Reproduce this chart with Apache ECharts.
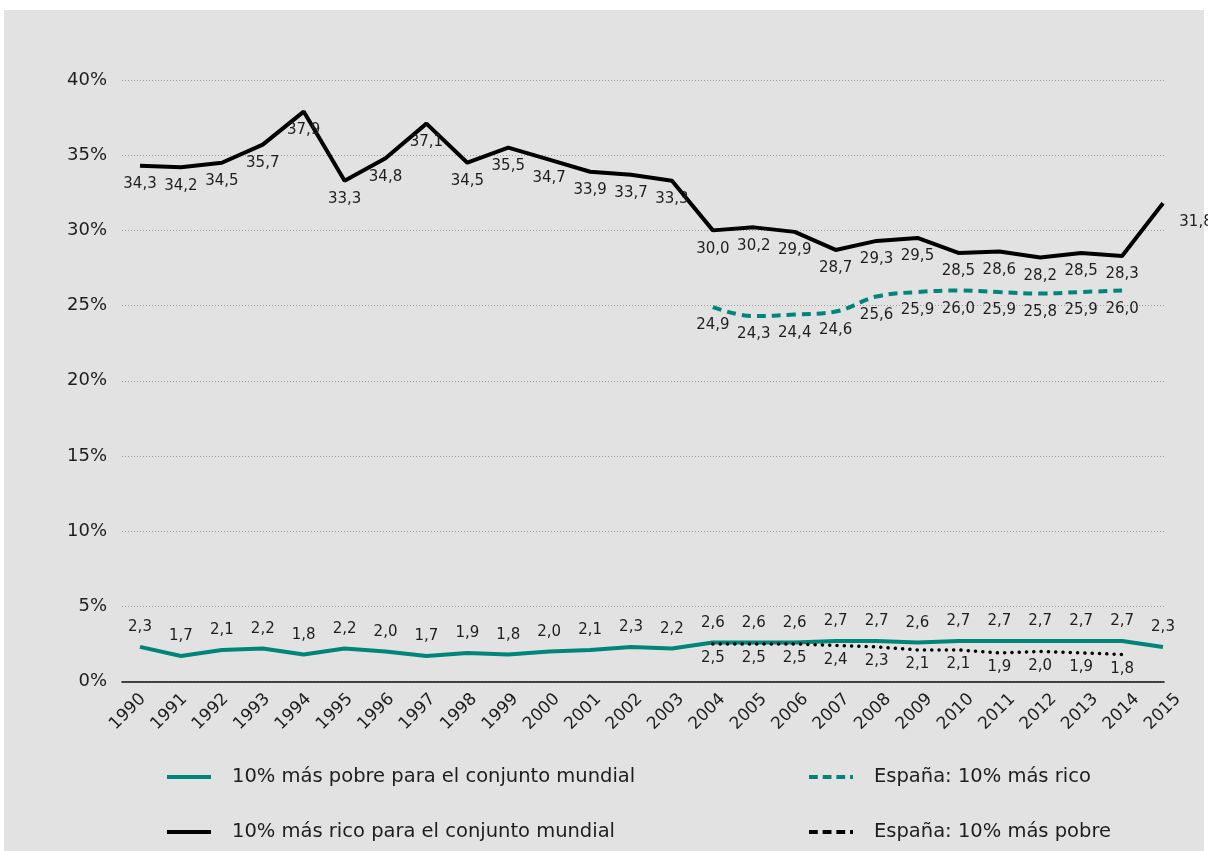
<!DOCTYPE html>
<html>
<head>
<meta charset="utf-8">
<script src="https://cdn.jsdelivr.net/npm/echarts@6/dist/echarts.min.js"></script>
<style>
  html, body { margin: 0; padding: 0; background: #ffffff; }
  #bg { position: absolute; left: 4px; top: 10px; width: 1200px; height: 841px; background: #e2e2e2; }
  #chart { position: absolute; left: 0; top: 0; width: 1208px; height: 851px; }
</style>
</head>
<body>
<div id="bg"></div>
<div id="chart"></div>
<script>
const years = ['1990','1991','1992','1993','1994','1995','1996','1997','1998','1999','2000','2001','2002','2003','2004','2005','2006','2007','2008','2009','2010','2011','2012','2013','2014','2015'];
const richWorld = [34.3, 34.2, 34.5, 35.7, 37.9, 33.3, 34.8, 37.1, 34.5, 35.5, 34.7, 33.9, 33.7, 33.3, 30.0, 30.2, 29.9, 28.7, 29.3, 29.5, 28.5, 28.6, 28.2, 28.5, 28.3, 31.8];
const poorWorld = [2.3, 1.7, 2.1, 2.2, 1.8, 2.2, 2.0, 1.7, 1.9, 1.8, 2.0, 2.1, 2.3, 2.2, 2.6, 2.6, 2.6, 2.7, 2.7, 2.6, 2.7, 2.7, 2.7, 2.7, 2.7, 2.3];
const spainYears = ['2004','2005','2006','2007','2008','2009','2010','2011','2012','2013','2014'];
const spainRich = [24.9, 24.3, 24.4, 24.6, 25.6, 25.9, 26.0, 25.9, 25.8, 25.9, 26.0];
const spainPoor = [2.5, 2.5, 2.5, 2.4, 2.3, 2.1, 2.1, 1.9, 2.0, 1.9, 1.8];
const yMin = 0, yMax = 40, yStep = 5;

const names = {
  poorWorld: '10% más pobre para el conjunto mundial',
  richWorld: '10% más rico para el conjunto mundial',
  spainRich: 'España: 10% más rico',
  spainPoor: 'España: 10% más pobre'
};

const FONT = 'DejaVu Sans';
const TXT = '#1e1e1e';
const TEAL = '#00857a';
const fmt = v => Number(v).toFixed(1).replace('.', ',');

const chart = echarts.init(document.getElementById('chart'), null, { renderer: 'canvas' });

const gridTop = 80, gridH = 601.5;

const richData = richWorld.map((v, i) => {
  if (i === richWorld.length - 1) {
    return { value: v, label: { offset: [33, 0] } };
  }
  return v;
});

const baseLabel = (pos, dist) => ({
  show: true, position: pos, distance: dist,
  fontFamily: FONT, fontSize: 15, color: TXT,
  formatter: p => fmt(Array.isArray(p.value) ? p.value[1] : p.value)
});

const solidIcon = 'path://M0,0h44v4h-44z';
const dashIcon = 'path://M0,0h9v4h-9z M14,0h9v4h-9z M28,0h9v4h-9z M42,0h3v4h-3z';

const legendBase = {
  orient: 'vertical', top: 767, padding: 0, itemWidth: 44, itemHeight: 4, itemGap: 35,
  textStyle: { fontFamily: FONT, fontSize: 19.5, color: TXT, lineHeight: 20, padding: [0, 0, 0, 16] }
};

chart.setOption({
  animation: false,
  backgroundColor: 'transparent',
  textStyle: { fontFamily: FONT },
  grid: [
    { left: 140, width: 1023, top: gridTop, height: gridH },
    { left: 122, width: 1042, top: gridTop, height: gridH },
    { left: 143, width: 1035, top: gridTop, height: gridH }
  ],
  xAxis: [
    { gridIndex: 0, type: 'category', data: years, boundaryGap: false, show: false },
    { gridIndex: 1, type: 'category', data: years, boundaryGap: false,
      axisLine: { show: true, lineStyle: { color: '#111', width: 1.5 } },
      axisTick: { show: false }, axisLabel: { show: false }, splitLine: { show: false } },
    { gridIndex: 2, type: 'category', data: years, boundaryGap: false,
      axisLine: { show: false }, axisTick: { show: false }, splitLine: { show: false },
      axisLabel: { show: true, rotate: 45, margin: 15, fontFamily: FONT, fontSize: 17, color: TXT, interval: 0 } }
  ],
  yAxis: [
    { gridIndex: 0, type: 'value', min: yMin, max: yMax, interval: yStep, show: false },
    { gridIndex: 1, type: 'value', min: yMin, max: yMax, interval: yStep,
      axisLine: { show: false }, axisTick: { show: false },
      axisLabel: { margin: 15, fontFamily: FONT, fontSize: 18, color: TXT, formatter: v => v + '%' },
      splitLine: { show: true, lineStyle: { color: '#9c9c9c', width: 1, type: [1, 2] } } },
    { gridIndex: 2, type: 'value', min: yMin, max: yMax, interval: yStep, show: false }
  ],
  legend: [
    Object.assign({}, legendBase, {
      left: 167,
      data: [
        { name: names.poorWorld, icon: solidIcon },
        { name: names.richWorld, icon: solidIcon }
      ]
    }),
    Object.assign({}, legendBase, {
      left: 809,
      data: [
        { name: names.spainRich, icon: dashIcon },
        { name: names.spainPoor, icon: dashIcon }
      ]
    })
  ],
  series: [
    {
      name: names.poorWorld, type: 'line', xAxisIndex: 0, yAxisIndex: 0,
      data: poorWorld, symbol: 'circle', symbolSize: 0.01, showSymbol: true, z: 3,
      lineStyle: { color: TEAL, width: 4 }, itemStyle: { color: TEAL },
      label: baseLabel('top', 12)
    },
    {
      name: names.richWorld, type: 'line', xAxisIndex: 0, yAxisIndex: 0,
      data: richData, symbol: 'circle', symbolSize: 0.01, showSymbol: true, z: 3,
      lineStyle: { color: '#000', width: 4 }, itemStyle: { color: '#000' },
      label: baseLabel('bottom', 11)
    },
    {
      name: names.spainRich, type: 'line', xAxisIndex: 0, yAxisIndex: 0,
      data: spainYears.map((y, i) => [y, spainRich[i]]), symbol: 'circle', symbolSize: 0.01, showSymbol: true,
      smooth: 0.4, z: 3,
      lineStyle: { color: TEAL, width: 4, type: [9, 6] }, itemStyle: { color: TEAL },
      label: baseLabel('bottom', 11)
    },
    {
      name: names.spainPoor, type: 'line', xAxisIndex: 0, yAxisIndex: 0,
      data: spainYears.map((y, i) => [y, spainPoor[i]]), symbol: 'circle', symbolSize: 0.01, showSymbol: true, z: 3,
      lineStyle: { color: '#000', width: 3.5, type: [0.1, 7.2], cap: 'round' }, itemStyle: { color: '#000' },
      label: baseLabel('bottom', 7)
    }
  ]
});
</script>
</body>
</html>
